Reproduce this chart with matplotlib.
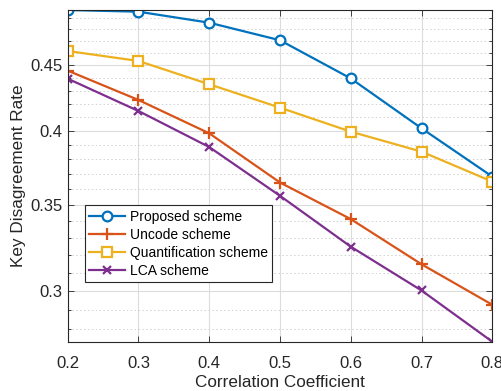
import matplotlib
matplotlib.use("Agg")
import matplotlib.pyplot as plt
from matplotlib.ticker import FixedLocator, FixedFormatter, NullFormatter

plt.rcParams['font.family'] = ['Liberation Sans', 'DejaVu Sans']

# data
rho = [0.2, 0.3, 0.4, 0.5, 0.6, 0.7, 0.8]
proposed = [0.497, 0.4955, 0.4858, 0.4707, 0.4395, 0.4018, 0.3684]
uncode = [0.4457, 0.4228, 0.3982, 0.3645, 0.3413, 0.3147, 0.2926]
quantif = [0.4617, 0.4535, 0.4349, 0.4170, 0.3994, 0.3853, 0.3651]
lca = [0.4393, 0.4145, 0.3885, 0.3559, 0.3248, 0.3002, 0.2738]
labels = ['Proposed scheme', 'Uncode scheme', 'Quantification scheme', 'LCA scheme']
xtick_labels = ['0.2', '0.3', '0.4', '0.5', '0.6', '0.7', '0.8']
yticks = [0.3, 0.35, 0.4, 0.45]
ytick_labels = ['0.3', '0.35', '0.4', '0.45']

c_blue = '#0072BD'
c_orange = '#D95319'
c_yellow = '#EDB120'
c_purple = '#7E2F8E'

fig = plt.figure(figsize=(5.01, 3.91), dpi=100)
ax = fig.add_axes([0.1351, 0.1261, 0.8475, 0.8483])

ax.plot(rho, proposed, '-o', color=c_blue, lw=1.6, ms=7, mew=1.6,
        mfc='white', label=labels[0])
ax.plot(rho, uncode, '-+', color=c_orange, lw=1.6, ms=8, mew=1.6,
        label=labels[1])
ax.plot(rho, quantif, '-s', color=c_yellow, lw=1.6, ms=6.5, mew=1.6,
        mfc='white', label=labels[2])
ax.plot(rho, lca, '-x', color=c_purple, lw=1.6, ms=6, mew=1.6,
        label=labels[3])

ax.set_yscale('log')
ax.set_xlim(0.2, 0.8)
ax.set_ylim(0.2738, 0.497)

ax.xaxis.set_major_locator(FixedLocator(rho))
ax.xaxis.set_major_formatter(FixedFormatter(xtick_labels))
ax.yaxis.set_major_locator(FixedLocator(yticks))
ax.yaxis.set_major_formatter(FixedFormatter(ytick_labels))
minor = [0.28, 0.29, 0.31, 0.32, 0.33, 0.34, 0.36, 0.37, 0.38, 0.39,
         0.41, 0.42, 0.43, 0.44, 0.46, 0.47, 0.48, 0.49]
ax.yaxis.set_minor_locator(FixedLocator(minor))
ax.yaxis.set_minor_formatter(NullFormatter())

ax.grid(True, which='major', color='#dcdcdc', lw=0.8, ls='-')
ax.grid(True, which='minor', axis='y', color='#d0d0d0', lw=0.7, ls=(0, (1.5, 2.5)))
ax.set_axisbelow(True)

for s in ax.spines.values():
    s.set_color('#262626')
    s.set_linewidth(0.8)
ax.tick_params(which='both', direction='in', top=True, right=True,
               colors='#262626', labelsize=12, length=4, width=0.6)
ax.tick_params(which='minor', length=2.5)
ax.tick_params(axis='x', pad=10)
ax.tick_params(axis='y', pad=4)

ax.set_xlabel('Correlation Coefficient', fontsize=12.3, color='#262626', labelpad=3)
ax.set_ylabel('Key Disagreement Rate', fontsize=12.3, color='#262626', labelpad=3)

leg = ax.legend(loc='lower left', bbox_to_anchor=(0.041, 0.179),
                borderaxespad=0, fontsize=10, fancybox=False, framealpha=1,
                edgecolor='#262626', handlelength=2.6, handletextpad=0.3,
                labelspacing=0.3, borderpad=0.3)
leg.get_frame().set_linewidth(0.8)

fig.savefig('out.png', dpi=100)
